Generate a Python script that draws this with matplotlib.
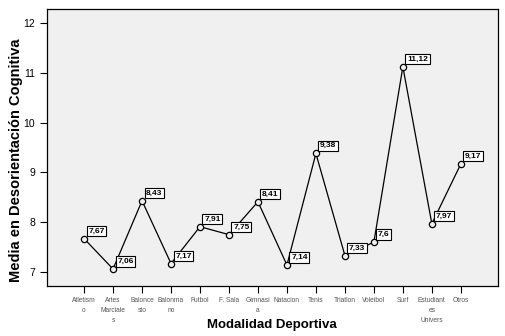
import matplotlib.pyplot as plt
import numpy as np

modalidades = ["Atletism\no", "Artes\nMarciale\ns", "Balonce\nsto", "Balonma\nno", "Futbol",
               "F. Sala", "Gimnasi\na", "Natacion", "Tenis", "Triatlon", "Voleibol", "Surf",
               "Estudiant\nes\nUnivers", "Otros"]
medias = [7.67, 7.06, 8.43, 7.17, 7.91, 7.75, 8.41, 7.14, 9.38, 7.33, 7.6, 11.12, 7.97, 9.17]
etiquetas = ["7,67", "7,06", "8,43", "7,17", "7,91", "7,75", "8,41", "7,14", "9,38", "7,33",
             "7,6", "11,12", "7,97", "9,17"]

plt.rcParams['font.family'] = ['Liberation Sans', 'DejaVu Sans']

fig = plt.figure(figsize=(5.05, 3.36), dpi=100)
ax = fig.add_axes([0.093, 0.149, 0.893, 0.824])
ax.set_facecolor('#f0f0f0')

x = np.arange(len(medias))
ax.plot(x, medias, color='black', lw=0.9, marker='o', ms=4.5,
        mfc='#f0f0f0', mec='black', mew=0.9, zorder=3)

for xi, yi, txt in zip(x, medias, etiquetas):
    ax.annotate(txt, (xi, yi), xytext=(3, 3), textcoords='offset points',
                fontsize=6, fontweight='bold', ha='left', va='bottom',
                bbox=dict(boxstyle='square,pad=0.2', fc='white', ec='black', lw=0.8),
                zorder=4)

ax.set_xlim(-1.28, len(medias) - 1 + 1.28)
ax.set_ylim(6.72, 12.28)
ax.set_yticks([7, 8, 9, 10, 11, 12])
ax.set_xticks(x)
ax.set_xticklabels(modalidades, fontsize=4.8, color='#555555', linespacing=1.6)
ax.tick_params(axis='y', labelsize=7.5, length=5, width=0.8)
ax.tick_params(axis='x', length=5, width=0.8, pad=3)
for s in ax.spines.values():
    s.set_linewidth(0.9)

ax.set_ylabel("Media en Desorientación Cognitiva", fontsize=10.5, fontweight='bold')
ax.yaxis.set_label_coords(-0.069, 0.455)
ax.set_xlabel("Modalidad Deportiva", fontsize=9.5, fontweight='bold')
ax.xaxis.set_label_coords(0.499, -0.141)
ax.xaxis.label.set_va('center')
ax.yaxis.label.set_va('center')

fig.savefig("out.png", dpi=100)
